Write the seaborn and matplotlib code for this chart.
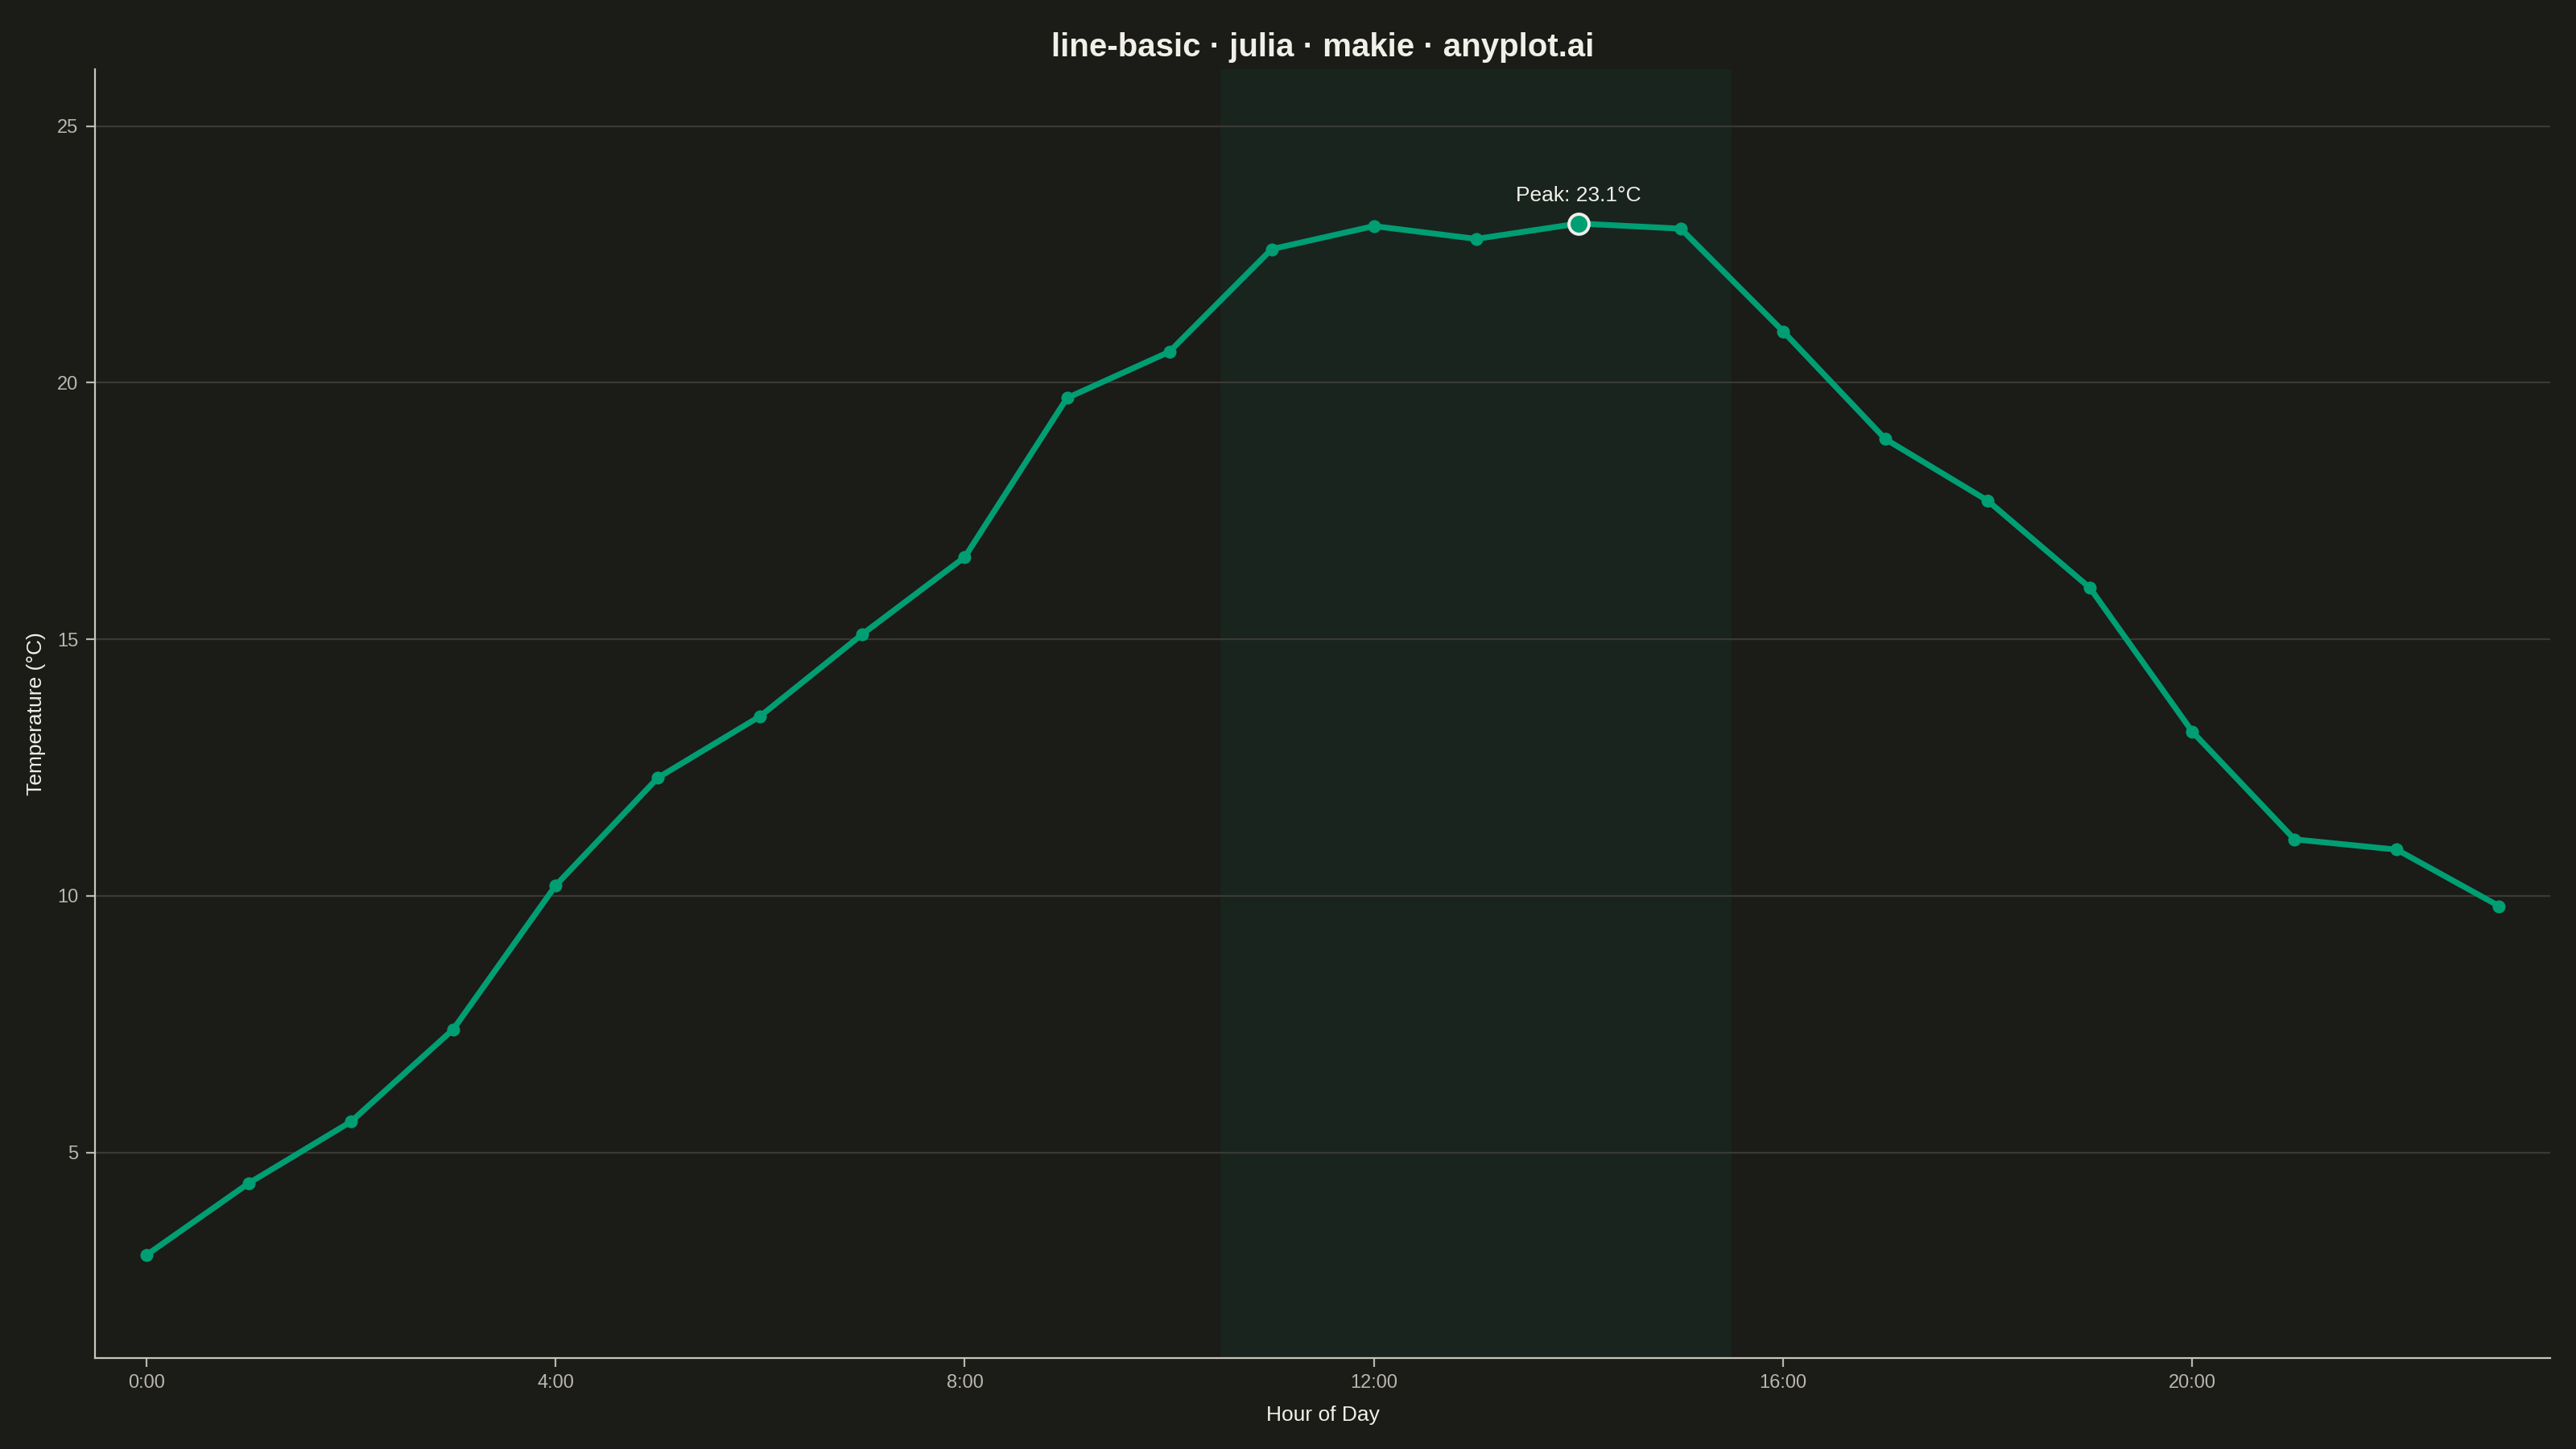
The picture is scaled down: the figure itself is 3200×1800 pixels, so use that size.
import matplotlib
matplotlib.use("Agg")
import matplotlib.pyplot as plt
import seaborn as sns
import pandas as pd

# hourly temperature readings
hours = list(range(24))
temps = [3.0, 4.4, 5.6, 7.4, 10.2, 12.3, 13.5, 15.1, 16.6, 19.7, 20.6, 22.6,
         23.05, 22.8, 23.1, 23.0, 21.0, 18.9, 17.7, 16.0, 13.2, 11.1, 10.9, 9.8]
tick_hours = [0, 4, 8, 12, 16, 20]
tick_labels = [f"{h}:00" for h in tick_hours]
y_ticks = [5, 10, 15, 20, 25]
peak_window = (10.5, 15.5)

BG = "#1b1b17"
FG = "#f0efe8"
MUTED = "#b8b6ae"
GREEN = "#009e73"

df = pd.DataFrame({"hour": hours, "temp": temps})

sns.set_style("white")
plt.rcParams["font.family"] = ["Liberation Sans", "DejaVu Sans"]

fig, ax = plt.subplots(figsize=(16, 9), dpi=200)
fig.patch.set_facecolor(BG)
ax.set_facecolor(BG)
fig.subplots_adjust(left=0.037, right=0.99, bottom=0.063, top=0.952)

ax.axvspan(*peak_window, color="#19241f", zorder=0, lw=0)

sns.lineplot(data=df, x="hour", y="temp", ax=ax, color=GREEN, linewidth=2.6,
             marker="o", markersize=5.8, markeredgewidth=0, zorder=3)

# highlight the peak
i_max = df["temp"].idxmax()
px, py = df.loc[i_max, "hour"], df.loc[i_max, "temp"]
ax.scatter([px], [py], s=80, color=GREEN, edgecolor=FG, linewidth=1.4, zorder=4)
ax.annotate(f"Peak: {py:.1f}°C", (px, py), xytext=(0, 8), textcoords="offset points",
            ha="center", va="bottom", color=FG, fontsize=9.5)

ax.set_xlim(-0.5, 23.5)
ax.set_ylim(1.0, 26.1)
ax.set_xticks(tick_hours)
ax.set_xticklabels(tick_labels)
ax.set_yticks(y_ticks)
ax.yaxis.grid(True, color="#3a3a35", linewidth=0.8)
ax.xaxis.grid(False)
ax.set_axisbelow(True)

for side in ["top", "right"]:
    ax.spines[side].set_visible(False)
for side in ["left", "bottom"]:
    ax.spines[side].set_color("#c8c6bc")
    ax.spines[side].set_linewidth(0.8)

ax.tick_params(colors=MUTED, labelsize=8.5, length=4, width=0.8, direction="out",
               bottom=True, left=True)
ax.tick_params(axis="both", labelcolor=MUTED)

ax.set_xlabel("Hour of Day", color=FG, fontsize=9.5, labelpad=6)
ax.set_ylabel("Temperature (°C)", color=FG, fontsize=9.5, labelpad=5)
ax.set_title("line-basic · julia · makie · anyplot.ai", color=FG, fontsize=14.5,
             fontweight="bold", pad=6)

fig.savefig("out.png", dpi=200, facecolor=BG)
